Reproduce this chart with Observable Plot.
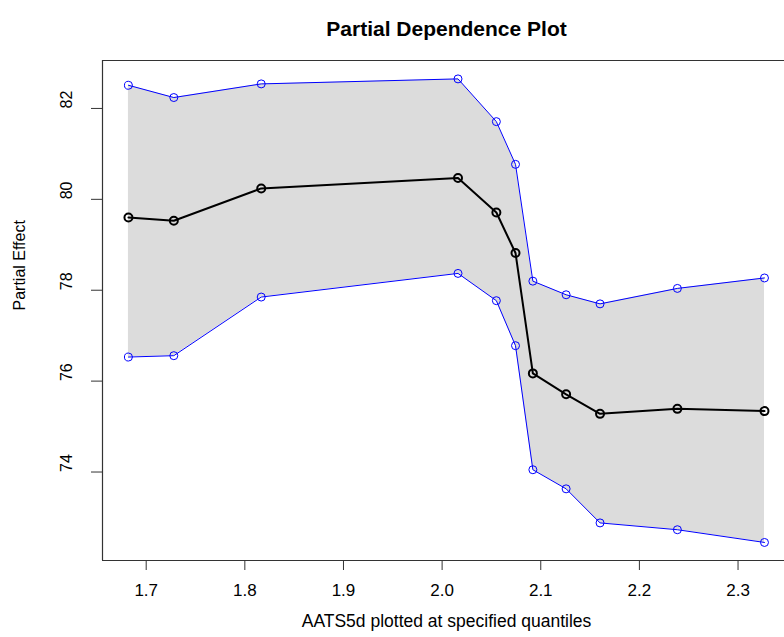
<!DOCTYPE html>
<html>
<head>
<meta charset="utf-8">
<script src="https://cdn.jsdelivr.net/npm/d3@7"></script>
<script src="https://cdn.jsdelivr.net/npm/@observablehq/plot@0.6"></script>
<style>
  html, body { margin: 0; padding: 0; background: #fff; }
  #chart { width: 784px; height: 637px; }
</style>
</head>
<body>
<div id="chart"></div>
<script>
const xValues = [1.682, 1.728, 1.8166, 2.0161, 2.055, 2.0744, 2.092, 2.1257, 2.1601, 2.2385, 2.3268];
const meanEffect = [79.60, 79.53, 80.24, 80.47, 79.71, 78.82, 76.17, 75.71, 75.28, 75.39, 75.34];
const upperEffect = [82.51, 82.24, 82.54, 82.65, 81.71, 80.77, 78.20, 77.90, 77.70, 78.04, 78.27];
const lowerEffect = [76.53, 76.56, 77.85, 78.37, 77.77, 76.78, 74.05, 73.63, 72.88, 72.73, 72.45];
const xTicks = [1.7, 1.8, 1.9, 2.0, 2.1, 2.2, 2.3];
const yTicks = [74, 76, 78, 80, 82];
const titleText = "Partial Dependence Plot";
const xLabel = "AATS5d plotted at specified quantiles";
const yLabel = "Partial Effect";

const data = xValues.map((x, i) => ({x, mean: meanEffect[i], upper: upperEffect[i], lower: lowerEffect[i]}));

const xDomain = [1.6557, 2.3471];
const yDomain = [72.053, 83.055];
const axisColor = "#333";
const font = "'Liberation Sans', Arial, Helvetica, sans-serif";

const chart = Plot.plot({
  width: 784,
  height: 637,
  marginTop: 60,
  marginBottom: 77,
  marginLeft: 102,
  marginRight: 0,
  style: {fontFamily: font, fontSize: "16px", background: "#fff", color: "#000"},
  x: {domain: xDomain},
  y: {domain: yDomain},
  marks: [
    Plot.areaY(data, {x: "x", y1: "lower", y2: "upper", fill: "#dcdcdc"}),
    Plot.line(data, {x: "x", y: "upper", stroke: "blue", strokeWidth: 1}),
    Plot.line(data, {x: "x", y: "lower", stroke: "blue", strokeWidth: 1}),
    Plot.dot(data, {x: "x", y: "upper", stroke: "blue", strokeWidth: 1, r: 4}),
    Plot.dot(data, {x: "x", y: "lower", stroke: "blue", strokeWidth: 1, r: 4}),
    Plot.line(data, {x: "x", y: "mean", stroke: "black", strokeWidth: 2}),
    Plot.dot(data, {x: "x", y: "mean", stroke: "black", strokeWidth: 2, r: 4}),
    Plot.ruleX([xDomain[0]], {stroke: axisColor, strokeWidth: 1.2}),
    Plot.ruleY([yDomain[0], yDomain[1]], {stroke: axisColor, strokeWidth: 1.2}),
    Plot.axisX({ticks: xTicks, label: null, tickSize: 10, tickPadding: 13, stroke: axisColor, fill: "#000", tickFormat: d3.format(".1f"), fontSize: 17}),
    Plot.axisY({ticks: yTicks, label: null, tickSize: 11, stroke: axisColor, tickFormat: () => ""}),
    Plot.text(yTicks, {y: d => d, frameAnchor: "left", dx: -36, rotate: -90, text: d => String(d), fontSize: 16, fill: "#000"}),
    Plot.text([yLabel], {frameAnchor: "left", dx: -83, rotate: -90, text: d => d, fontSize: 16, fill: "#000"}),
    Plot.text([xLabel], {frameAnchor: "bottom", dy: 66, dx: 3, text: d => d, fontSize: 17.5, fill: "#000"}),
    Plot.text([titleText], {frameAnchor: "top", dy: -39, dx: 3, text: d => d, fontSize: 21, fontWeight: "bold", fill: "#000"})
  ]
});
document.getElementById("chart").appendChild(chart);
</script>
</body>
</html>
